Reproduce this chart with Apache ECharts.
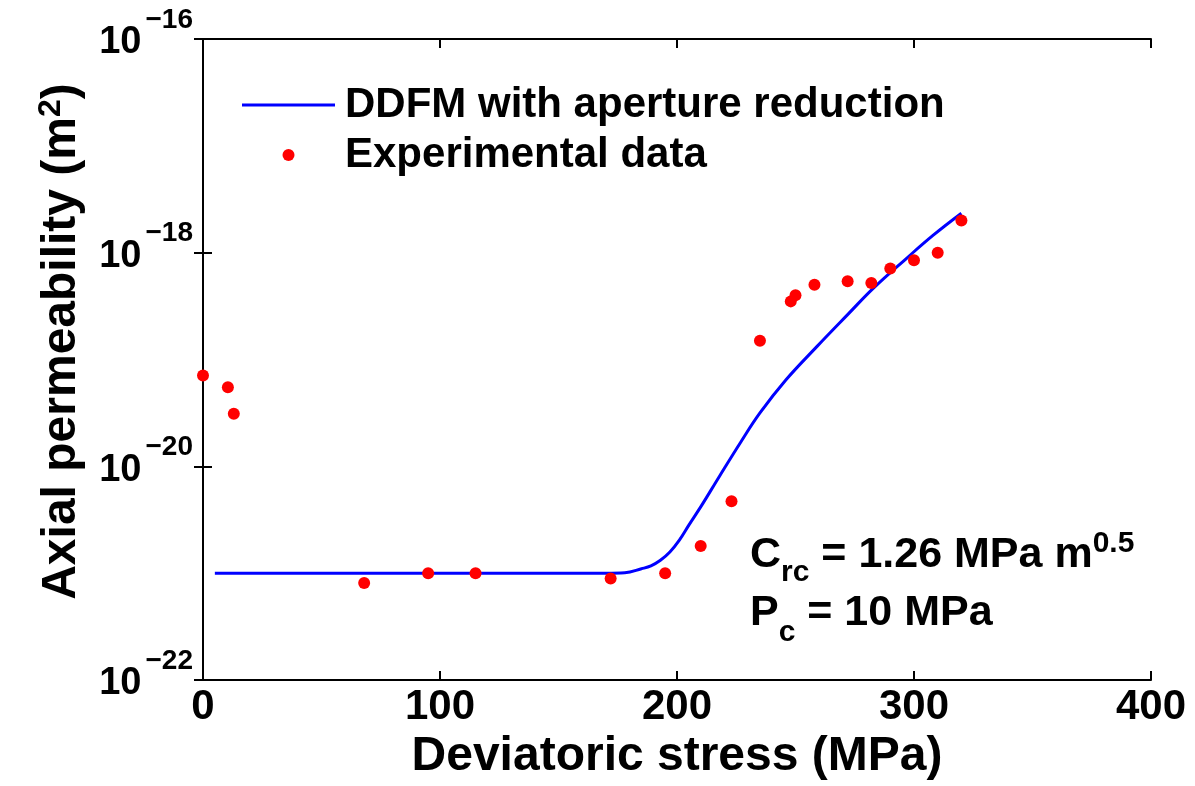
<!DOCTYPE html>
<html>
<head>
<meta charset="utf-8">
<script src="https://cdn.jsdelivr.net/npm/echarts@6/dist/echarts.min.js"></script>
<style>
  html, body { margin: 0; padding: 0; background: #fff; }
  #chart { width: 1195px; height: 786px; }
</style>
</head>
<body>
<div id="chart"></div>
<script>
// experimental points: deviatoric stress (MPa) / axial permeability (m^2)
var expStress = [0, 10.5, 13, 68, 95, 115, 172, 195, 210, 223, 235, 248, 250, 258, 272, 282, 290, 300, 310, 320];
var expPerm = [7.1e-20, 5.5e-20, 3.1e-20, 8.1e-22, 1.0e-21, 1.0e-21, 8.9e-22, 1.0e-21, 1.8e-21, 4.7e-21,
               1.5e-19, 3.5e-19, 4.0e-19, 5.0e-19, 5.4e-19, 5.2e-19, 7.1e-19, 8.5e-19, 1.0e-18, 2.0e-18];

// DDFM model curve
var modelStress = [5, 100, 150, 170, 178, 185, 189, 193, 197, 201, 205, 210, 218, 227, 235, 246, 259, 272, 283, 297, 308, 320];
var modelPerm = [1e-21, 1e-21, 1e-21, 1e-21, 1.01e-21, 1.10e-21, 1.17e-21, 1.32e-21, 1.58e-21, 2.04e-21, 2.82e-21, 4.17e-21,
                 8.13e-21, 1.7e-20, 3.16e-20, 6.46e-20, 1.32e-19, 2.63e-19, 4.68e-19, 8.91e-19, 1.45e-18, 2.34e-18];

var xTicks = [0, 100, 200, 300, 400];
var yExponents = [-22, -20, -18, -16];

var chart = echarts.init(document.getElementById('chart'));

var fontFam = '"Liberation Sans", Arial, sans-serif';
var axisLineStyle = { color: '#000', width: 2 };

// the value axis runs in log10 space (tiny permeabilities break the log scale rounding)
function zipLog(a, b) {
  return a.map(function (v, i) { return [v, Math.log(b[i]) / Math.LN10]; });
}

var yMin = yExponents[0], yMax = yExponents[yExponents.length - 1];

var option = {
  backgroundColor: '#fff',
  animation: false,
  textStyle: { fontFamily: fontFam },
  grid: { left: 203, right: 44, top: 39, bottom: 106, containLabel: false, outerBoundsMode: 'none' },
  legend: {
    orient: 'vertical',
    left: 237,
    top: 77,
    itemWidth: 93,
    itemHeight: 12,
    itemGap: 4,
    textStyle: { fontSize: 42, fontWeight: 'bold', color: '#000', lineHeight: 46, padding: [0, 0, 0, 5], fontFamily: fontFam },
    data: [
      { name: 'DDFM with aperture reduction', icon: 'path://M0,0L100,0L100,3.4L0,3.4Z' },
      { name: 'Experimental data', icon: 'circle' }
    ]
  },
  xAxis: [{
    type: 'value',
    min: xTicks[0],
    max: xTicks[xTicks.length - 1],
    interval: 100,
    name: 'Deviatoric stress (MPa)',
    nameLocation: 'middle',
    nameGap: 51,
    nameTextStyle: { fontSize: 48, fontWeight: 'bold', color: '#000' },
    axisLine: { lineStyle: axisLineStyle },
    axisTick: { inside: true, length: 9, lineStyle: axisLineStyle },
    axisLabel: { fontSize: 42, fontWeight: 'bold', color: '#000', margin: 6 },
    splitLine: { show: false }
  }, {
    type: 'value',
    position: 'top',
    min: xTicks[0],
    max: xTicks[xTicks.length - 1],
    interval: 100,
    axisLine: { lineStyle: axisLineStyle },
    axisTick: { inside: true, length: 9, lineStyle: axisLineStyle },
    axisLabel: { show: false },
    splitLine: { show: false }
  }],
  yAxis: [{
    type: 'value',
    min: yMin,
    max: yMax,
    interval: 2,
    name: '{t|Axial permeability (m}{p|2}{t|)}',
    nameLocation: 'middle',
    nameGap: 114,
    nameTextStyle: {
      padding: [0, 0, 0, 36],
      rich: {
        t: { fontSize: 48, fontWeight: 'bold', color: '#000', fontFamily: fontFam },
        p: { fontSize: 32, fontWeight: 'bold', color: '#000', fontFamily: fontFam, padding: [0, 0, 22, 0] }
      }
    },
    axisLine: { lineStyle: axisLineStyle },
    axisTick: { inside: true, length: 9, lineStyle: axisLineStyle },
    axisLabel: {
      margin: 10,
      color: '#000',
      formatter: function (e) {
        return '{b|10}{s|\u2212' + Math.abs(Math.round(e)) + '}';
      },
      rich: {
        b: { fontSize: 38, fontWeight: 'bold', color: '#000', fontFamily: fontFam, padding: [8, 0, 0, 0] },
        s: { fontSize: 28, fontWeight: 'bold', color: '#000', fontFamily: fontFam, padding: [0, 0, 38, 4] }
      }
    },
    splitLine: { show: false }
  }, {
    type: 'value',
    position: 'right',
    min: yMin,
    max: yMax,
    interval: 2,
    axisLine: { lineStyle: axisLineStyle },
    axisTick: { inside: true, length: 9, lineStyle: axisLineStyle },
    axisLabel: { show: false },
    splitLine: { show: false }
  }],
  graphic: [{
    type: 'text',
    left: 750,
    top: 529,
    style: {
      text: '{m|C}{sub|rc}{m| = 1.26 MPa m}{sup|0.5}',
      rich: {
        m: { fontSize: 43, fontWeight: 'bold', fill: '#000', fontFamily: fontFam },
        sub: { fontSize: 30, fontWeight: 'bold', fill: '#000', fontFamily: fontFam, padding: [36, 0, 0, 0] },
        sup: { fontSize: 30, fontWeight: 'bold', fill: '#000', fontFamily: fontFam, padding: [0, 0, 22, 0] }
      }
    }
  }, {
    type: 'text',
    left: 750,
    top: 592,
    style: {
      text: '{m|P}{sub|c}{m| = 10 MPa}',
      rich: {
        m: { fontSize: 43, fontWeight: 'bold', fill: '#000', fontFamily: fontFam },
        sub: { fontSize: 30, fontWeight: 'bold', fill: '#000', fontFamily: fontFam, padding: [38, 0, 0, 0] }
      }
    }
  }],
  series: [{
    name: 'DDFM with aperture reduction',
    type: 'line',
    smooth: 0.4,
    symbol: 'none',
    showSymbol: false,
    lineStyle: { color: '#0000ff', width: 3 },
    itemStyle: { color: '#0000ff' },
    data: zipLog(modelStress, modelPerm),
    z: 2
  }, {
    name: 'Experimental data',
    type: 'scatter',
    symbol: 'circle',
    symbolSize: 12,
    itemStyle: { color: '#ff0000', opacity: 1 },
    data: zipLog(expStress, expPerm),
    z: 3
  }]
};

chart.setOption(option);
</script>
</body>
</html>
